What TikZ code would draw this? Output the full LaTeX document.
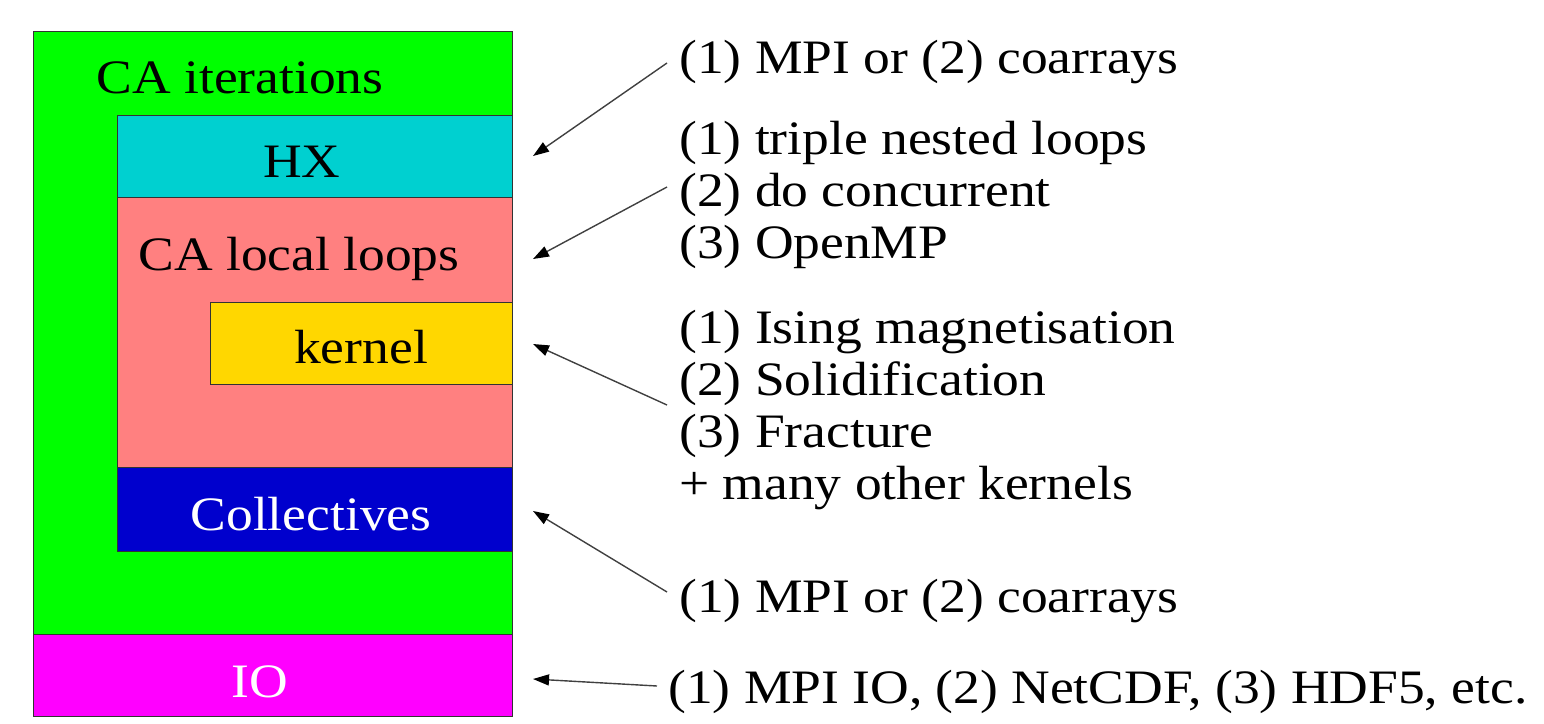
\documentclass[tikz,border=0pt]{standalone}
\usepackage{fontspec}
\setmainfont{Liberation Serif}
\usetikzlibrary{arrows.meta}
\definecolor{cagreen}{RGB}{0,255,0}
\definecolor{hxcyan}{RGB}{0,208,208}
\definecolor{locpink}{RGB}{255,128,128}
\definecolor{kgold}{RGB}{255,215,0}
\definecolor{colblue}{RGB}{0,0,205}
\definecolor{iomag}{RGB}{255,0,255}
\begin{document}
\begin{tikzpicture}[x=1pt,y=-1pt,
  txt/.style={inner sep=0pt, anchor=base west, font=\fontsize{48}{52}\selectfont, xscale=1.115},
  ctxt/.style={inner sep=0pt, anchor=base, font=\fontsize{48}{52}\selectfont, xscale=1.115},
  box/.style={draw=black!80, line width=1pt, inner sep=0pt, anchor=north west},
  arr/.style={draw=black!75, line width=1.4pt, -{Triangle[length=16pt,width=11pt,black]}}]
\useasboundingbox (0,0) rectangle (1544,723);
% boxes
\node[box, fill=cagreen, minimum width=479pt, minimum height=603pt] (ca) at (33,31) {};
\node[box, fill=iomag, minimum width=479pt, minimum height=82pt] (io) at (33,634) {};
\node[box, fill=hxcyan, minimum width=395pt, minimum height=82pt] (hx) at (117,115) {};
\node[box, fill=locpink, minimum width=395pt, minimum height=270pt] (loc) at (117,197) {};
\node[box, fill=kgold, minimum width=302pt, minimum height=82pt] (ker) at (210,302) {};
\node[box, fill=colblue, minimum width=395pt, minimum height=84pt] (col) at (117,467) {};
% box labels
\node[ctxt] (tca) at (240,93) {CA iterations};
\node[ctxt] (thx) at (302,177) {HX};
\node[ctxt] (tloc) at (299,270) {CA local loops};
\node[ctxt] (tker) at (361,363) {kernel};
\node[ctxt, text=white] (tcol) at (311,530) {Collectives};
\node[ctxt, text=white] (tio) at (260,697) {IO};
% right texts
\node[txt] (r1) at (679,73) {(1) MPI or (2) coarrays};
\node[txt] (r2a) at (679,154) {(1) triple nested loops};
\node[txt] (r2b) at (679,206) {(2) do concurrent};
\node[txt] (r2c) at (679,258) {(3) OpenMP};
\node[txt] (r3a) at (679,343) {(1) Ising magnetisation};
\node[txt] (r3b) at (679,395) {(2) Solidification};
\node[txt] (r3c) at (679,447) {(3) Fracture};
\node[txt] (r3d) at (679,499) {+ many other kernels};
\node[txt] (r4) at (679,612) {(1) MPI or (2) coarrays};
\node[txt] (r5) at (668,703) {(1) MPI IO, (2) NetCDF, (3) HDF5, etc.};
% arrow coordinates
\coordinate (s1) at (667,63);  \coordinate (e1) at (533,156);
\coordinate (s2) at (667,187); \coordinate (e2) at (533,259);
\coordinate (s3) at (667,405); \coordinate (e3) at (533,344);
\coordinate (s4) at (667,592); \coordinate (e4) at (533,511);
\coordinate (s5) at (657,686); \coordinate (e5) at (533,679);
\draw[arr] (s1) -- (e1);
\draw[arr] (s2) -- (e2);
\draw[arr] (s3) -- (e3);
\draw[arr] (s4) -- (e4);
\draw[arr] (s5) -- (e5);
\end{tikzpicture}
\end{document}
